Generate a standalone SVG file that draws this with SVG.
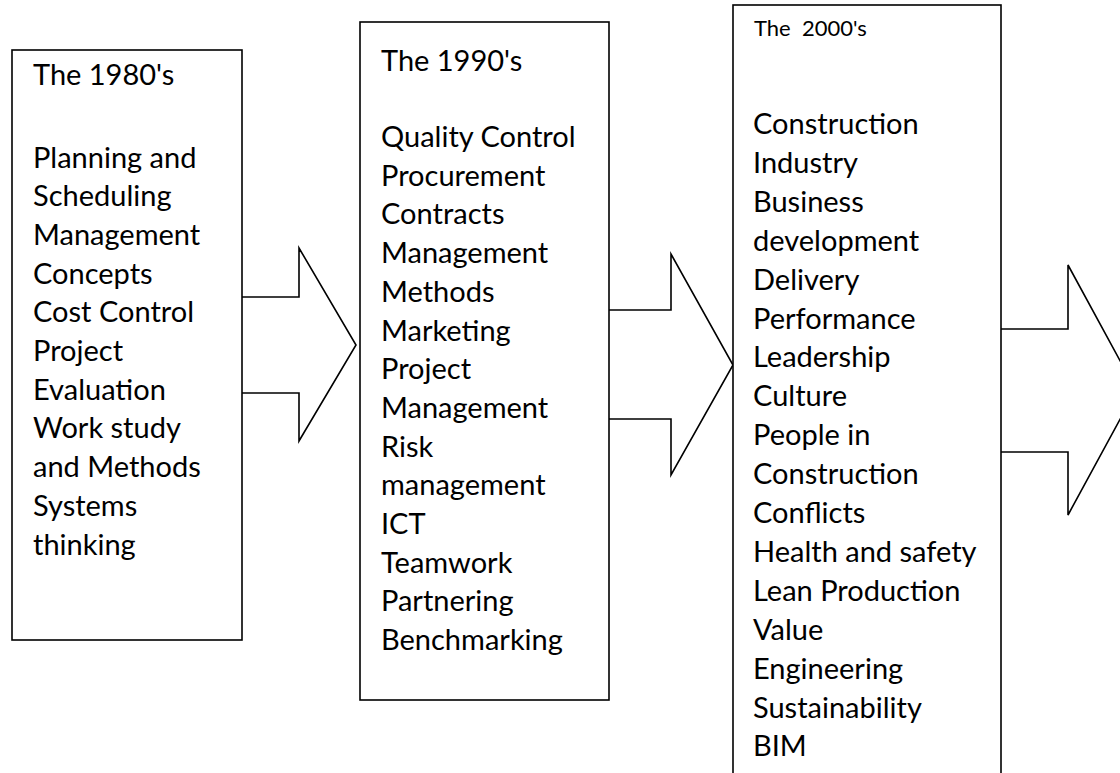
<svg xmlns="http://www.w3.org/2000/svg" width="1120" height="773" viewBox="0 0 1120 773">
  <style>
    .frame { fill: #ffffff; stroke: #000000; stroke-width: 1.6; }
    .flow { fill: #ffffff; stroke: #000000; stroke-width: 1.6; stroke-linejoin: miter; }
    .label { font-family: Lato, "Liberation Sans", sans-serif; font-size: 29px; fill: #000000; }
    .small { font-size: 22px; }
  </style>
  <rect width="1120" height="773" fill="#ffffff"/>

  <!-- block arrows between the decades -->
  <g id="connectors">
    <path class="flow" d="M242,297 H299 V248 L356,345 L299,441 V393 H242"/>
    <path class="flow" d="M609,310 H671 V254 L733,365 L671,475 V419 H609"/>
    <path class="flow" d="M1001,329 H1068 V265 L1136,390 L1068,515 V452 H1001"/>
  </g>

  <g id="decade-1980s">
    <rect class="frame" x="12" y="50" width="230" height="590"/>
    <text class="label" x="33" y="85">The 1980's</text>
    <text class="label">
      <tspan x="33" y="167.5">Planning and</tspan>
      <tspan x="33" dy="38.7">Scheduling</tspan>
      <tspan x="33" dy="38.7">Management</tspan>
      <tspan x="33" dy="38.7">Concepts</tspan>
      <tspan x="33" dy="38.7">Cost Control</tspan>
      <tspan x="33" dy="38.7">Project</tspan>
      <tspan x="33" dy="38.7">Evaluation</tspan>
      <tspan x="33" dy="38.7">Work study</tspan>
      <tspan x="33" dy="38.7">and Methods</tspan>
      <tspan x="33" dy="38.7">Systems</tspan>
      <tspan x="33" dy="38.7">thinking</tspan>
    </text>
  </g>

  <g id="decade-1990s">
    <rect class="frame" x="360" y="22" width="249" height="678"/>
    <text class="label" x="381" y="71">The 1990's</text>
    <text class="label">
      <tspan x="381" y="147">Quality Control</tspan>
      <tspan x="381" dy="38.7">Procurement</tspan>
      <tspan x="381" dy="38.7">Contracts</tspan>
      <tspan x="381" dy="38.7">Management</tspan>
      <tspan x="381" dy="38.7">Methods</tspan>
      <tspan x="381" dy="38.7">Marketing</tspan>
      <tspan x="381" dy="38.7">Project</tspan>
      <tspan x="381" dy="38.7">Management</tspan>
      <tspan x="381" dy="38.7">Risk</tspan>
      <tspan x="381" dy="38.7">management</tspan>
      <tspan x="381" dy="38.7">ICT</tspan>
      <tspan x="381" dy="38.7">Teamwork</tspan>
      <tspan x="381" dy="38.7">Partnering</tspan>
      <tspan x="381" dy="38.7">Benchmarking</tspan>
    </text>
  </g>

  <g id="decade-2000s">
    <rect class="frame" x="733" y="5" width="268" height="800"/>
    <text class="label small" x="754" y="36" xml:space="preserve">The  2000's</text>
    <text class="label">
      <tspan x="753" y="134">Construction</tspan>
      <tspan x="753" dy="38.9">Industry</tspan>
      <tspan x="753" dy="38.9">Business</tspan>
      <tspan x="753" dy="38.9">development</tspan>
      <tspan x="753" dy="38.9">Delivery</tspan>
      <tspan x="753" dy="38.9">Performance</tspan>
      <tspan x="753" dy="38.9">Leadership</tspan>
      <tspan x="753" dy="38.9">Culture</tspan>
      <tspan x="753" dy="38.9">People in</tspan>
      <tspan x="753" dy="38.9">Construction</tspan>
      <tspan x="753" dy="38.9">Conflicts</tspan>
      <tspan x="753" dy="38.9">Health and safety</tspan>
      <tspan x="753" dy="38.9">Lean Production</tspan>
      <tspan x="753" dy="38.9">Value</tspan>
      <tspan x="753" dy="38.9">Engineering</tspan>
      <tspan x="753" dy="38.9">Sustainability</tspan>
      <tspan x="753" dy="38.9">BIM</tspan>
    </text>
  </g>
</svg>
